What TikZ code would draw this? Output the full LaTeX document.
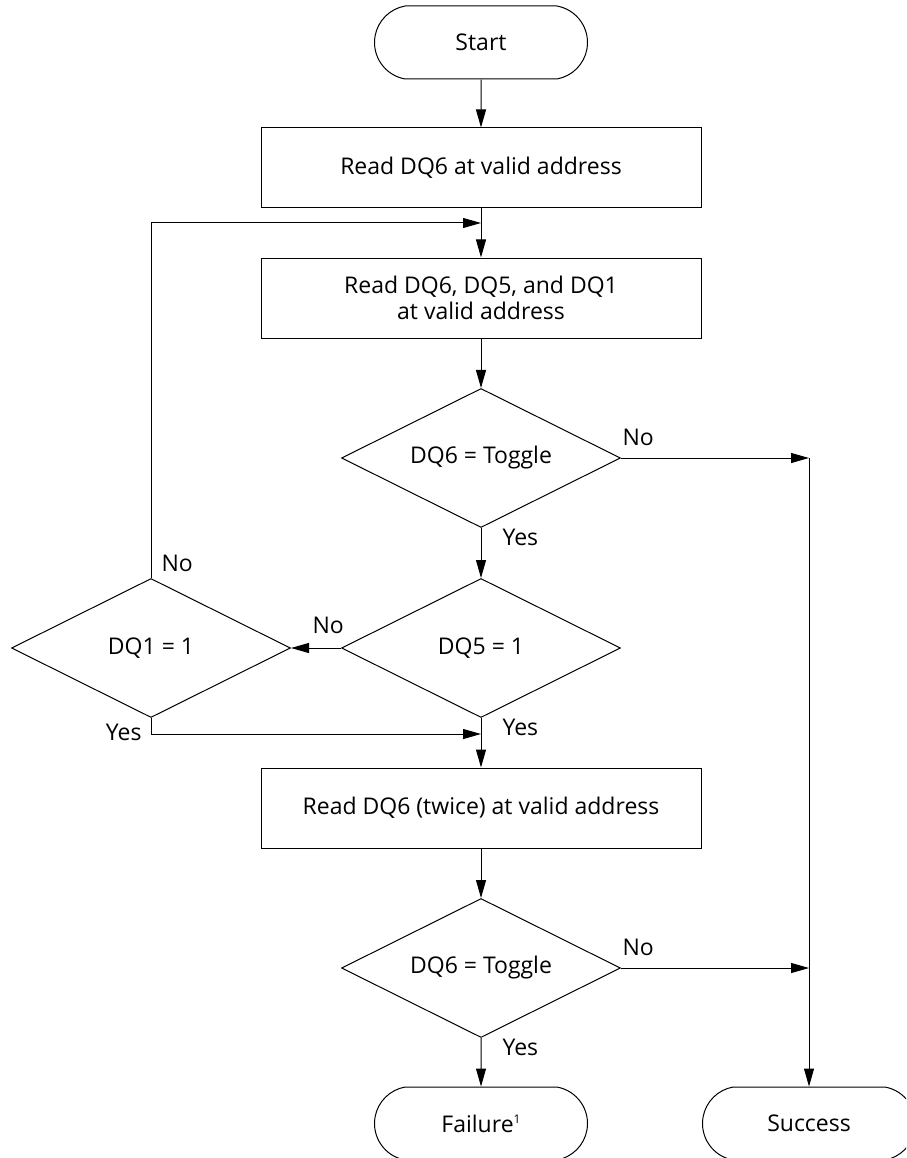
\documentclass[tikz,border=0pt]{standalone}
\usepackage{fontspec}
\setmainfont{Open Sans}
\usetikzlibrary{shapes.geometric,shapes.misc,arrows.meta}
\begin{document}
\begin{tikzpicture}[x=1pt,y=-1pt,line width=1pt,
  font=\fontsize{23}{26}\selectfont,
  term/.style={draw, rounded rectangle, rounded rectangle arc length=160,
    minimum width=213pt, minimum height=73pt, inner sep=0pt},
  proc/.style={draw, rectangle, minimum width=440pt, minimum height=80pt,
    inner sep=0pt, align=center},
  dec/.style={draw, diamond, aspect=2, minimum width=279pt, minimum height=139pt, inner sep=0pt},
  arr/.style={-{Triangle[length=18pt,width=10pt]}},
  lbl/.style={inner sep=0pt}]
\fill[white] (0,0) rectangle (906,1158);
\clip (0,0) rectangle (906,1158);
\useasboundingbox (0,0) rectangle (906,1158);

\node[term] (start) at (481,42.5) {Start};
\node[proc] (b1) at (481,168) {Read DQ6 at valid address};
\node[proc] (b2) at (481,298) {Read DQ6, DQ5, and DQ1\\at valid address};
\node[dec] (d1) at (481,458) {DQ6 = Toggle};
\node[dec] (d2) at (481,648) {DQ5 = 1};
\node[dec] (d3) at (151,648) {DQ1 = 1};
\node[proc] (b3) at (481,808) {Read DQ6 (twice) at valid address};
\node[dec] (d4) at (481,968) {DQ6 = Toggle};
\node[term] (fail) at (481,1123.5) {Failure\raisebox{0.7ex}{\fontsize{12}{12}\selectfont 1}};
\node[term] (succ) at (809,1123.5) {Success};

\coordinate (loopin) at (481,223);
\coordinate (mergein) at (481,734);
\coordinate (j1) at (809,458);
\coordinate (j2) at (809,968);

\draw[arr] (start) -- (b1);
\draw[arr] (b1) -- (b2);
\draw[arr] (b2) -- (d1);
\draw[arr] (d1) -- (d2);
\draw[arr] (d2.west) -- (d3.east);
\draw[arr] (d2) -- (b3);
\draw[arr] (b3) -- (d4);
\draw[arr] (d4) -- (fail);
\draw[arr] (d3.north) |- (loopin);
\draw[arr] (d3.south) |- (mergein);
\draw[arr] (d1.east) -- (j1);
\draw[arr] (d4.east) -- (j2);
\draw[arr] (j1) -- (succ.north);

\node[lbl, anchor=base west] (l1) at (622,445) {No};
\node[lbl, anchor=base west] (l2) at (502,545) {Yes};
\node[lbl, anchor=base west] (l3) at (312,633) {No};
\node[lbl, anchor=base west] (l4) at (502,735) {Yes};
\node[lbl, anchor=base west] (l5) at (161,571) {No};
\node[lbl, anchor=base east] (l6) at (142,740) {Yes};
\node[lbl, anchor=base west] (l7) at (622,955) {No};
\node[lbl, anchor=base west] (l8) at (502,1055) {Yes};
\end{tikzpicture}
\end{document}
